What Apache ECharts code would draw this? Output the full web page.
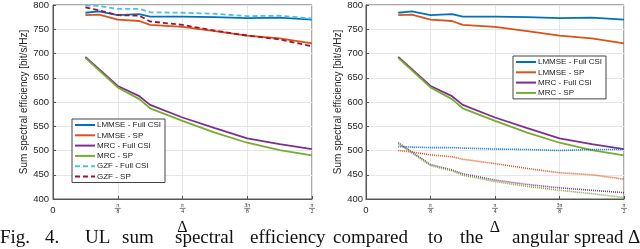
<!DOCTYPE html>
<html>
<head>
<meta charset="utf-8">
<script src="https://cdn.jsdelivr.net/npm/echarts@6/dist/echarts.min.js"></script>
<style>html,body{margin:0;padding:0;background:#fff}#c{width:640px;height:249px}</style>
</head>
<body>
<div id="c"></div>
<script>
// ---- data (x in degrees; axis labelled in fractions of pi) ----
const xTicks = [0, 22.5, 45, 67.5, 90];
const xTickNum = ['0', 'π', 'π', '3π', 'π'];
const xTickDen = ['', '8', '4', '8', '2'];
const yTicks = [400, 450, 500, 550, 600, 650, 700, 750, 800];

const xA = [11.25, 16, 22.5, 30, 33.75, 45, 56.25, 67.5, 78.75, 90];
const xB = [11.25, 22.5, 30, 33.75, 45, 56.25, 67.5, 78.75, 90];

const lmmseFull = [784, 787, 779, 781, 776, 776, 775, 773, 774, 770];
const lmmseSP   = [779, 780, 770, 767, 759, 755, 746, 737, 731, 721];
const mrcFull   = [693, 633, 612, 594, 568, 546, 525, 513, 503];
const mrcSP     = [691, 630, 606, 587, 561, 537, 516, 501, 490];
const gzfFull   = [799, 798, 792, 792, 785, 784, 782, 777, 778, 772];
const gzfSP     = [795, 789, 779, 778, 766, 759, 747, 737, 729, 715];

// right panel dotted curves
const lmmseFullB = [508, 507, 506, 506, 505, 503, 502, 500, 502, 502];
const lmmseSPB   = [500, 497, 491, 487, 482, 473, 463, 454, 450, 441];
const mrcFullB   = [516, 471, 460, 452, 439, 430, 423, 418, 413];
const mrcSPB     = [514, 469, 458, 449, 436, 426, 418, 411, 403];

const names = ['LMMSE - Full CSI', 'LMMSE - SP', 'MRC - Full CSI', 'MRC - SP', 'GZF - Full CSI', 'GZF - SP'];
const colors = ['#0072BD', '#D95319', '#7E2F8E', '#77AC30', '#4DBEEE', '#A2142F'];

const caption = [
  ['Fig.', 0], ['4.', 45], ['UL', 85], ['sum', 122], ['spectral', 175], ['efficiency', 250],
  ['compared', 333], ['to', 428], ['the', 460], ['angular', 512], ['spread', 574], ['Δ', 628]
];

// ---- build ----
const zip = (xs, ys) => xs.map((x, i) => [x, ys[i]]);
const chart = echarts.init(document.getElementById('c'), null, {renderer: 'canvas'});

function xAxis(gi) {
  return {
    gridIndex: gi, type: 'value', min: 0, max: 90, interval: 22.5,
    axisLine: {lineStyle: {color: '#555', width: 1}},
    axisTick: {inside: true, length: 3, lineStyle: {color: '#555'}},
    splitLine: {show: true, lineStyle: {color: '#e6e6e6', width: 1}},
    axisLabel: {
      margin: 4, color: '#262626',
      formatter: function (v) {
        const i = xTicks.indexOf(v);
        if (i < 0) return '';
        if (xTickDen[i] === '') return '{z|' + xTickNum[i] + '}';
        return '{n|' + xTickNum[i] + '}\n{b|}\n{d|' + xTickDen[i] + '}';
      },
      rich: {
        z: {fontSize: 9.5, fontFamily: 'Liberation Sans', color: '#262626', lineHeight: 12, padding: [2, 0, 0, 0]},
        n: {fontSize: 5.5, fontFamily: 'Liberation Serif', color: '#262626', lineHeight: 4.5},
        b: {width: 6, height: 0.7, backgroundColor: '#444', lineHeight: 1.5},
        d: {fontSize: 5.5, fontFamily: 'Liberation Serif', color: '#262626', lineHeight: 4.5}
      }
    },
    name: 'Δ', nameLocation: 'middle', nameGap: 20,
    nameTextStyle: {fontFamily: 'Liberation Serif', fontSize: 16, color: '#111'}
  };
}
function yAxis(gi, gap, margin) {
  return {
    gridIndex: gi, type: 'value', min: 400, max: 800, interval: 50,
    axisLine: {show: true, lineStyle: {color: '#555', width: 1}},
    axisTick: {show: true, inside: true, length: 3, lineStyle: {color: '#555'}},
    splitLine: {show: true, lineStyle: {color: '#e6e6e6', width: 1}},
    axisLabel: {margin: margin, color: '#262626', fontSize: 9.5, fontFamily: 'Liberation Sans',
      formatter: v => yTicks.indexOf(v) >= 0 ? String(v) : ''},
    name: 'Sum spectral efficiency [bit/s/Hz]', nameLocation: 'middle', nameGap: gap,
    nameTextStyle: {fontFamily: 'Liberation Sans', fontSize: 10, color: '#262626'}
  };
}
function line(name, data, color, gi, type, width) {
  return {
    name: name, type: 'line', xAxisIndex: gi, yAxisIndex: gi, data: data,
    symbol: 'none', showSymbol: false, animation: false, z: 3,
    lineStyle: {color: color, width: width, type: type},
    itemStyle: {color: color}
  };
}

const series = [
  line(names[0], zip(xA, lmmseFull), colors[0], 0, 'solid', 1.8),
  line(names[1], zip(xA, lmmseSP), colors[1], 0, 'solid', 1.8),
  line(names[2], zip(xB, mrcFull), colors[2], 0, 'solid', 1.8),
  line(names[3], zip(xB, mrcSP), colors[3], 0, 'solid', 1.8),
  line(names[4], zip(xA, gzfFull), colors[4], 0, [5, 3], 1.8),
  line(names[5], zip(xA, gzfSP), colors[5], 0, [5, 3], 1.8),
  line(names[0], zip(xA, lmmseFull), colors[0], 1, 'solid', 1.8),
  line(names[1], zip(xA, lmmseSP), colors[1], 1, 'solid', 1.8),
  line(names[2], zip(xB, mrcFull), colors[2], 1, 'solid', 1.8),
  line(names[3], zip(xB, mrcSP), colors[3], 1, 'solid', 1.8),
  line('d0', zip(xA, lmmseFullB), colors[0], 1, [1, 1], 1.6),
  line('d1', zip(xA, lmmseSPB), colors[1], 1, [1, 1], 1.6),
  line('d2', zip(xB, mrcFullB), colors[2], 1, [1, 1], 1.6),
  line('d3', zip(xB, mrcSPB), colors[3], 1, [1, 1], 1.6)
];

const legendCommon = {
  orient: 'vertical', itemWidth: 20, itemHeight: 8, itemGap: 2.3,
  backgroundColor: '#fff', borderColor: '#444', borderWidth: 1, borderRadius: 0,
  padding: [2, 4, 2, 2], selectedMode: false,
  itemStyle: {color: 'rgba(0,0,0,0)', borderWidth: 0, opacity: 0},
  textStyle: {fontSize: 8, fontFamily: 'Liberation Sans', color: '#222', padding: [0, 0, 0, -3]}
};

chart.setOption({
  animation: false,
  backgroundColor: '#fff',
  grid: [
    {left: 53, width: 259, top: 5, height: 194, show: true, borderColor: '#555', borderWidth: 1, backgroundColor: 'transparent'},
    {left: 366, width: 258, top: 5, height: 194, show: true, borderColor: '#555', borderWidth: 1, backgroundColor: 'transparent'}
  ],
  xAxis: [xAxis(0), xAxis(1)],
  yAxis: [yAxis(0, 21, 4), yAxis(1, 23, 3)],
  legend: [
    Object.assign({}, legendCommon, {left: 72, top: 119, data: names.slice(0, 6)}),
    Object.assign({}, legendCommon, {left: 513, top: 56, data: names.slice(0, 4)})
  ],
  graphic: caption.map(c => ({
    type: 'text', left: c[1], top: 229,
    style: {text: c[0], font: '19px "Liberation Serif"', fill: '#111'}
  })),
  series: series
});
</script>
</body>
</html>
